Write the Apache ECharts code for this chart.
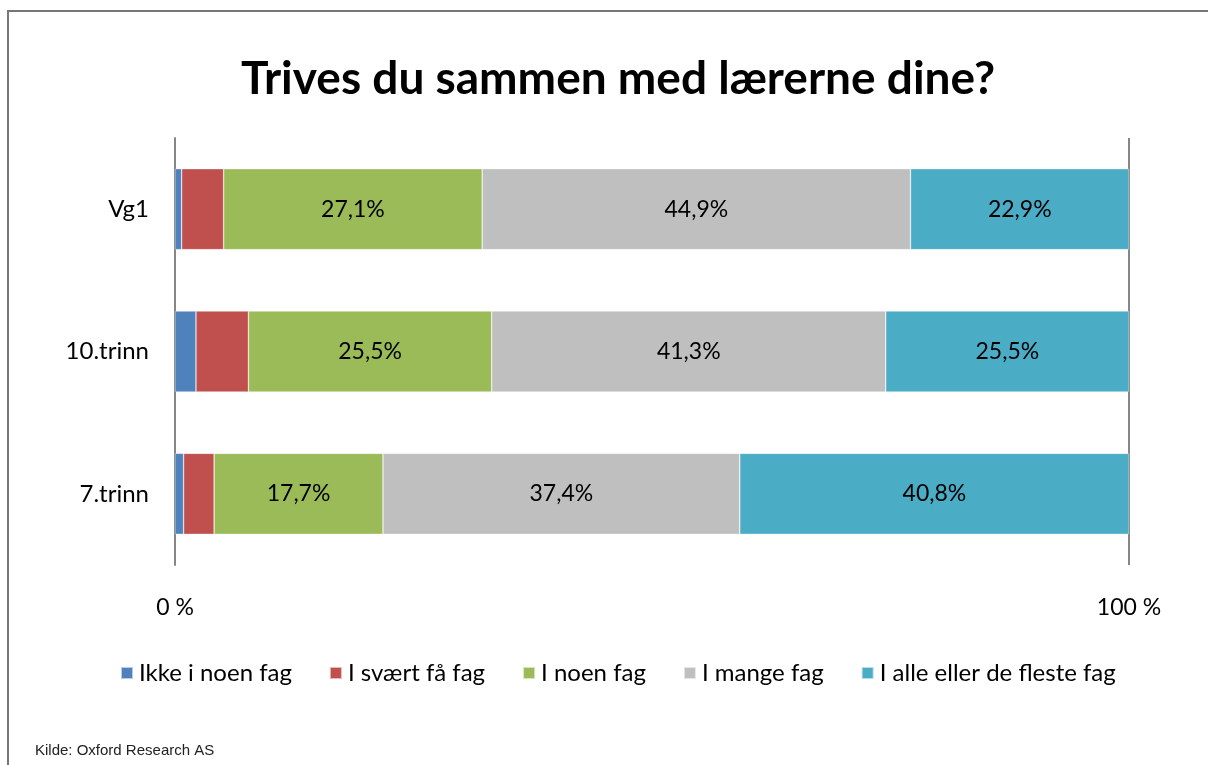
<!DOCTYPE html>
<html>
<head>
<meta charset="utf-8">
<script src="https://cdn.jsdelivr.net/npm/echarts@6/dist/echarts.min.js"></script>
<style>
  html, body { margin: 0; padding: 0; background: #fff; }
  #chart { width: 1208px; height: 765px; }
</style>
</head>
<body>
<div id="chart"></div>
<script>
// categories, top to bottom as shown
const categories = ['Vg1', '10.trinn', '7.trinn'];
const seriesNames = ['Ikke i noen fag', 'I svært få fag', 'I noen fag', 'I mange fag', 'I alle eller de fleste fag'];
const colors = ['#4F81BD', '#C0504D', '#9BBB59', '#BFBFBF', '#4BACC6'];

// values in %, same order as categories
const ikke = [0.7, 2.2, 0.9];
const svaertFa = [4.4, 5.5, 3.2];
const noen = [27.1, 25.5, 17.7];
const mange = [44.9, 41.3, 37.4];
const alle = [22.9, 25.5, 40.8];
const showLabel = [false, false, true, true, true];

const xTicks = ['0 %', '100 %'];

const font = 'Lato, "Open Sans", sans-serif';
const values = [ikke, svaertFa, noen, mange, alle];

const myChart = echarts.init(document.getElementById('chart'));

let option = {
    backgroundColor: '#fff',
    animation: false,
    title: {
        text: 'Trives du sammen med lærerne dine?',
        left: 236,
        top: 51,
        textStyle: {
            fontFamily: font,
            fontSize: 46,
            fontWeight: 'bold',
            color: '#000',
        },
    },
    grid: {
        left: 175,
        right: 79,
        top: 138,
        bottom: 200,
    },
    legend: {
        bottom: 75,
        left: 115,
        itemWidth: 12,
        itemHeight: 12,
        itemGap: 37,
        icon: 'rect',
        textStyle: {
            fontFamily: font,
            fontSize: 24,
            color: '#000',
            padding: [0, 0, 0, 1],
        },
        data: seriesNames,
    },
    xAxis: {
        type: 'value',
        min: 0,
        max: 100,
        interval: 100,
        axisLine: { show: false },
        axisTick: { show: false },
        splitLine: { show: true, lineStyle: { color: '#868686', width: 2 } },
        axisLabel: {
            margin: 31,
            fontFamily: font,
            fontSize: 23,
            color: '#000',
            formatter: function (v) {
                return v === 0 ? xTicks[0] : xTicks[1];
            },
        },
    },
    yAxis: {
        type: 'category',
        inverse: true,
        data: categories,
        axisLine: { show: true, lineStyle: { color: '#868686', width: 2 } },
        axisTick: { show: false },
        axisLabel: {
            margin: 26,
            fontFamily: font,
            fontSize: 24,
            color: '#000',
        },
    },
    series: seriesNames.map(function (name, i) {
        return {
            name: name,
            type: 'bar',
            stack: 'total',
            barWidth: 81,
            color: colors[i],
            itemStyle: {
                borderColor: 'rgba(255,255,255,0.6)',
                borderWidth: 0.6,
            },
            label: {
                show: showLabel[i],
                position: 'inside',
                fontFamily: font,
                fontSize: 23,
                color: '#000',
                formatter: function (p) {
                    return p.value.toFixed(1).replace('.', ',') + '%';
                },
            },
            data: values[i],
        };
    }),
    graphic: [
        {
            type: 'polyline',
            shape: { points: [[8, 765], [8, 11], [1208, 11]] },
            style: { stroke: '#767676', lineWidth: 2, fill: null },
        },
        {
            type: 'text',
            left: 35,
            top: 743,
            style: {
                text: 'Kilde: Oxford Research AS',
                fontFamily: '"Liberation Sans", Arial, sans-serif',
                fontSize: 15,
                fill: '#222',
            },
        },
    ],
};

option && myChart.setOption(option);
</script>
</body>
</html>
